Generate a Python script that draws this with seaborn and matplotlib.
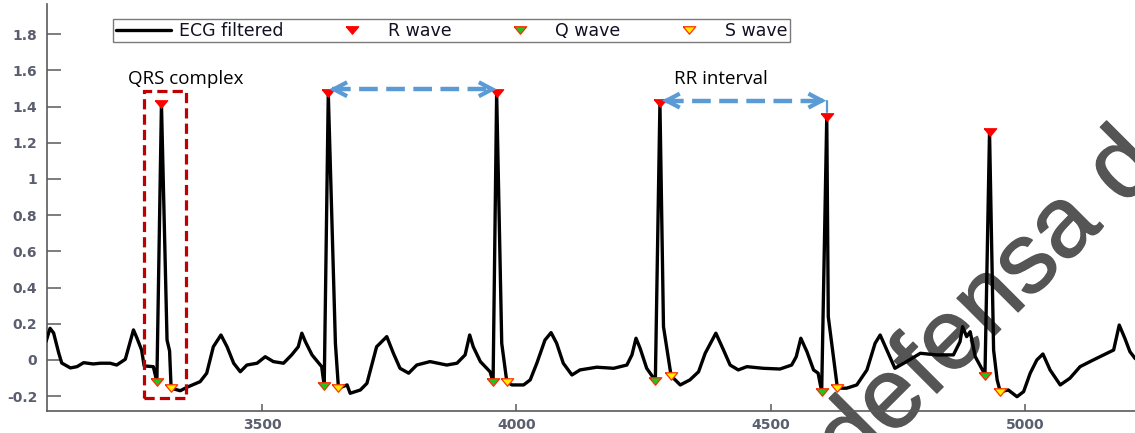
import matplotlib
matplotlib.use("Agg")
import matplotlib.pyplot as plt
from matplotlib.lines import Line2D
from matplotlib.markers import MarkerStyle
from matplotlib.patches import Rectangle
import matplotlib.patheffects as pe
import pandas as pd
import seaborn as sns

# Filtered ECG trace: sample index and amplitude
ecg_x = [3075, 3083, 3090, 3100, 3106, 3123, 3136, 3149, 3168, 3182, 3201, 3214, 3231, 3240, 3247, 3254, 3263, 3268, 3286,
         3293, 3302, 3313, 3318, 3321, 3339, 3352, 3378, 3391, 3404, 3419, 3431, 3444, 3457, 3470, 3490, 3506, 3522, 3542,
         3558, 3571, 3578, 3585, 3598, 3617,
         3622, 3630, 3644, 3650, 3667, 3673, 3693, 3706, 3725, 3745, 3758, 3771, 3788, 3804, 3830, 3863, 3883, 3899, 3908,
         3915, 3929, 3948,
         3954, 3961, 3971, 3981, 3991, 4014, 4027, 4040, 4056, 4068, 4079, 4092, 4109, 4125, 4158, 4191, 4217, 4227, 4235,
         4243, 4256,
         4273, 4282, 4289, 4304, 4322, 4341, 4358, 4371, 4392, 4407, 4420, 4436, 4453, 4485, 4518, 4541, 4550, 4559, 4571,
         4584, 4593,
         4600, 4610, 4613, 4631, 4649, 4669, 4689, 4705, 4715, 4728, 4744, 4767, 4794, 4826, 4859, 4872, 4877, 4885, 4892,
         4902, 4918,
         4921, 4930, 4938, 4945, 4951, 4967, 4984, 4997, 5010, 5023, 5035, 5049, 5069, 5088, 5108, 5134, 5161, 5174, 5185,
         5196, 5206, 5216, 5225]
ecg_y = [0.101, 0.175, 0.149, 0.039, -0.017, -0.044, -0.037, -0.015, -0.022, -0.018, -0.018, -0.028, 0.004, 0.094, 0.166,
         0.120, 0.055, -0.033, -0.037,
         -0.120, 1.414, 0.110, 0.050, -0.156, -0.170, -0.151, -0.120, -0.073, 0.073, 0.138, 0.073, -0.018, -0.065, -0.028,
         -0.018, 0.018, -0.009, -0.018, 0.028, 0.073, 0.148, 0.101, 0.028, -0.037,
         -0.142, 1.473, 0.092, -0.156, -0.138, -0.184, -0.166, -0.129, 0.073, 0.129, 0.037, -0.046, -0.073, -0.028, -0.009,
         -0.028, -0.018, 0.028, 0.138, 0.073, -0.009, -0.065,
         -0.120, 1.473, 0.092, -0.120, -0.138, -0.138, -0.110, -0.018, 0.110, 0.151, 0.092, -0.018, -0.083, -0.055, -0.040,
         -0.046, -0.028, 0.028, 0.120, 0.065, -0.046,
         -0.114, 1.418, 0.184, -0.088, -0.138, -0.110, -0.065, 0.037, 0.148, 0.055, -0.028, -0.055, -0.037, -0.046, -0.050,
         -0.028, 0.018, 0.120, 0.046, -0.055, -0.073,
         -0.175, 1.344, 0.239, -0.156, -0.156, -0.138, -0.055, 0.092, 0.138, 0.055, -0.046, -0.009, 0.037, 0.028, 0.028,
         0.101, 0.184, 0.129, 0.156, 0.018, -0.065,
         -0.088, 1.261, 0.055, -0.110, -0.175, -0.166, -0.203, -0.175, -0.073, 0.000, 0.033, -0.055, -0.138, -0.101, -0.037,
         0.000, 0.037, 0.055, 0.193, 0.120, 0.046, 0.009, -0.010]

# Detected fiducial points
r_x = [3302, 3630, 3961, 4282, 4610, 4930]
r_y = [1.414, 1.473, 1.473, 1.418, 1.344, 1.261]
q_x = [3293, 3622, 3954, 4273, 4600, 4921]
q_y = [-0.120, -0.142, -0.120, -0.114, -0.175, -0.088]
s_x = [3321, 3650, 3981, 4304, 4631, 4951]
s_y = [-0.156, -0.156, -0.120, -0.088, -0.156, -0.175]

series_labels = ["ECG filtered", "R wave", "Q wave", "S wave"]
x_ticks = [3500, 4000, 4500, 5000]
y_ticks = [-0.2, 0.0, 0.2, 0.4, 0.6, 0.8, 1.0, 1.2, 1.4, 1.6, 1.8]
y_tick_labels = ["-0.2", "0", "0.2", "0.4", "0.6", "0.8", "1", "1.2", "1.4", "1.6", "1.8"]

sns.set_theme(style="white")
plt.rcParams["font.family"] = ["DejaVu Sans"]

W, H = 1135, 433
fig = plt.figure(figsize=(W / 100, H / 100), dpi=100, facecolor="white")
ax = fig.add_axes([47 / W, 22 / H, 1 - 47 / W, (411 - 4) / H])
ax.set_facecolor("none")

# flattened downward triangle used for the wave markers
tri = MarkerStyle([(-1, 0.6), (1, 0.6), (0, -0.6), (-1, 0.6)])

trace = pd.DataFrame({"sample": ecg_x, "ecg": ecg_y})
sns.lineplot(data=trace, x="sample", y="ecg", sort=False, estimator=None,
             color="black", lw=2.4, ax=ax, zorder=3)

marker_styles = {
    "R wave": dict(x=r_x, y=r_y, fc="#ff0000", ec="#ff0000"),
    "Q wave": dict(x=q_x, y=q_y, fc="#22c422", ec="#ff2a00"),
    "S wave": dict(x=s_x, y=s_y, fc="#ffee00", ec="#ff3300"),
}
for name, st in marker_styles.items():
    sns.scatterplot(x=st["x"], y=st["y"], marker=tri, s=80, color=st["fc"],
                    edgecolor=st["ec"], linewidth=0.9, ax=ax, zorder=4, legend=False)

# QRS complex highlight box
ax.add_patch(Rectangle((3267, -0.208), 83, 1.696, fill=False, edgecolor="#c00000",
                       lw=2.3, linestyle=(0, (3.2, 1.6)), zorder=5))
ax.text(3350, 1.55, "QRS complex", ha="center", va="center", fontsize=13.5,
        family="Open Sans", color="black")

# RR interval arrows
blue = "#5b9bd5"
def rr_arrow(x0, x1, y):
    ax.plot([x0 + 6, x1 - 6], [y, y], color=blue, lw=3.2, linestyle=(0, (4.2, 1.9)),
            solid_capstyle="butt", zorder=5)
    for tip, tail in ((x0, x0 + 12), (x1, x1 - 12)):
        ax.annotate("", xy=(tip, y), xytext=(tail, y),
                    arrowprops=dict(arrowstyle="->,head_length=0.8,head_width=0.42",
                                    color=blue, lw=3.0, shrinkA=0, shrinkB=0,
                                    joinstyle="miter", capstyle="butt"), zorder=5)

rr_arrow(3632, 3961, 1.496)
rr_arrow(4286, 4609, 1.433)
ax.plot([4610, 4610], [1.433, 1.37], color=blue, lw=1.6, zorder=5)
ax.text(4402, 1.55, "RR interval", ha="center", va="center", fontsize=13.5,
        family="Open Sans", color="black")

ax.set_xlim(3077, 5216)
ax.set_ylim(-0.282, 1.967)
ax.set_xticks(x_ticks)
ax.set_xticklabels([str(t) for t in x_ticks])
ax.set_yticks(y_ticks)
ax.set_yticklabels(y_tick_labels)
ax.set_xlabel("")
ax.set_ylabel("")

axis_gray = "#5a5a5a"
label_gray = "#5a5e6e"
for side in ("top", "right"):
    ax.spines[side].set_visible(False)
for side in ("left", "bottom"):
    ax.spines[side].set_color(axis_gray)
    ax.spines[side].set_linewidth(1.2)
ax.tick_params(axis="y", direction="in", length=10, width=1.1, color=axis_gray, pad=7,
               labelsize=10, labelcolor=label_gray, left=True)
ax.tick_params(axis="x", direction="in", length=5, width=1.1, color=axis_gray, pad=5,
               labelsize=10, labelcolor=label_gray, bottom=True)
for lab in ax.get_xticklabels() + ax.get_yticklabels():
    lab.set_fontweight("bold")

handles = [
    Line2D([], [], color="black", lw=2.4),
    Line2D([], [], ls="none", marker=tri, ms=9, mfc="#ff0000", mec="#ff0000", mew=0.9),
    Line2D([], [], ls="none", marker=tri, ms=9, mfc="#22c422", mec="#ff2a00", mew=0.9),
    Line2D([], [], ls="none", marker=tri, ms=9, mfc="#ffee00", mec="#ff3300", mew=0.9),
]
leg = ax.legend(handles, series_labels, ncol=4, loc="upper left",
                bbox_to_anchor=(113 / W, 1 - 19 / H), bbox_transform=fig.transFigure,
                borderaxespad=0, fontsize=12.5, handlelength=3.2, handletextpad=0.45,
                columnspacing=2.35, borderpad=0.15, fancybox=False, framealpha=1,
                edgecolor="#7a7a7a")
leg.get_frame().set_linewidth(1.0)
for t in leg.get_texts():
    t.set_color("#111122")

# diagonal watermark behind the plot
fig.text(852 / W, -45 / H, "defensa de", rotation=45, rotation_mode="anchor",
         ha="left", va="baseline", fontsize=72, color="#555555",
         family="Liberation Sans", zorder=-1,
         path_effects=[pe.withStroke(linewidth=1.0, foreground="#555555")])

fig.savefig("out.png", dpi=100, facecolor="white")
